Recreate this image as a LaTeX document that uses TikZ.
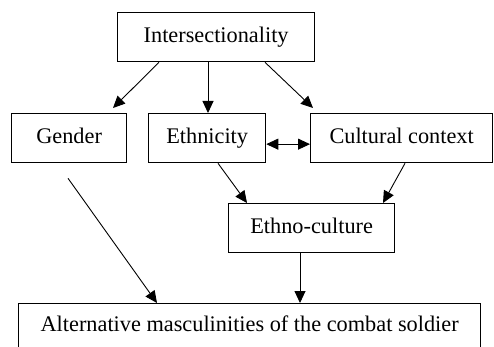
\documentclass[tikz,border=0pt]{standalone}
\usepackage{fontspec}
\setmainfont{Liberation Serif}
\usetikzlibrary{arrows.meta}
\begin{document}
\begin{tikzpicture}[x=1pt,y=1pt,
  box/.style={draw=black, line width=1.3pt, inner sep=0pt, anchor=north west,
    text height=16pt, text depth=6pt,
    font=\fontsize{22.3}{26}\selectfont},
  arr/.style={line width=0.9pt, -{Triangle[length=12pt,width=11pt]}},
  darr/.style={line width=0.9pt, {Triangle[length=12pt,width=11pt]}-{Triangle[length=12pt,width=11pt]}}]
\useasboundingbox (0,0) rectangle (494,-347);
\node[box, minimum width=197pt, minimum height=49pt] (inter) at (117,-12) {Intersectionality};
\node[box, minimum width=115pt, minimum height=49pt] (gender) at (11,-113) {Gender};
\node[box, minimum width=117pt, minimum height=49pt] (eth) at (148,-113) {Ethnicity};
\node[box, minimum width=182pt, minimum height=49pt] (cult) at (310,-113) {Cultural context};
\node[box, minimum width=166pt, minimum height=49pt] (ethc) at (228,-203) {Ethno-culture};
\node[box, minimum width=462pt, minimum height=46pt] (alt) at (18,-303) {Alternative masculinities of the combat soldier};
\draw[arr] ([xshift=42pt]inter.south west) -- ([xshift=102pt,yshift=5pt]gender.north west);
\draw[arr] ([xshift=91pt]inter.south west) -- ([xshift=60pt]eth.north west);
\draw[arr] ([xshift=148pt]inter.south west) -- ([xshift=3pt,yshift=5pt]cult.north west);
\draw[darr] ([yshift=-6pt]eth.east) -- ([yshift=-6pt]cult.west);
\draw[arr] ([xshift=70pt]eth.south west) -- ([xshift=19pt]ethc.north west);
\draw[arr] ([xshift=95pt]cult.south west) -- ([xshift=155pt]ethc.north west);
\draw[arr] ([xshift=57pt,yshift=-15pt]gender.south west) -- ([xshift=139pt]alt.north west);
\draw[arr] ([xshift=72pt]ethc.south west) -- ([xshift=282pt]alt.north west);
\end{tikzpicture}
\end{document}
